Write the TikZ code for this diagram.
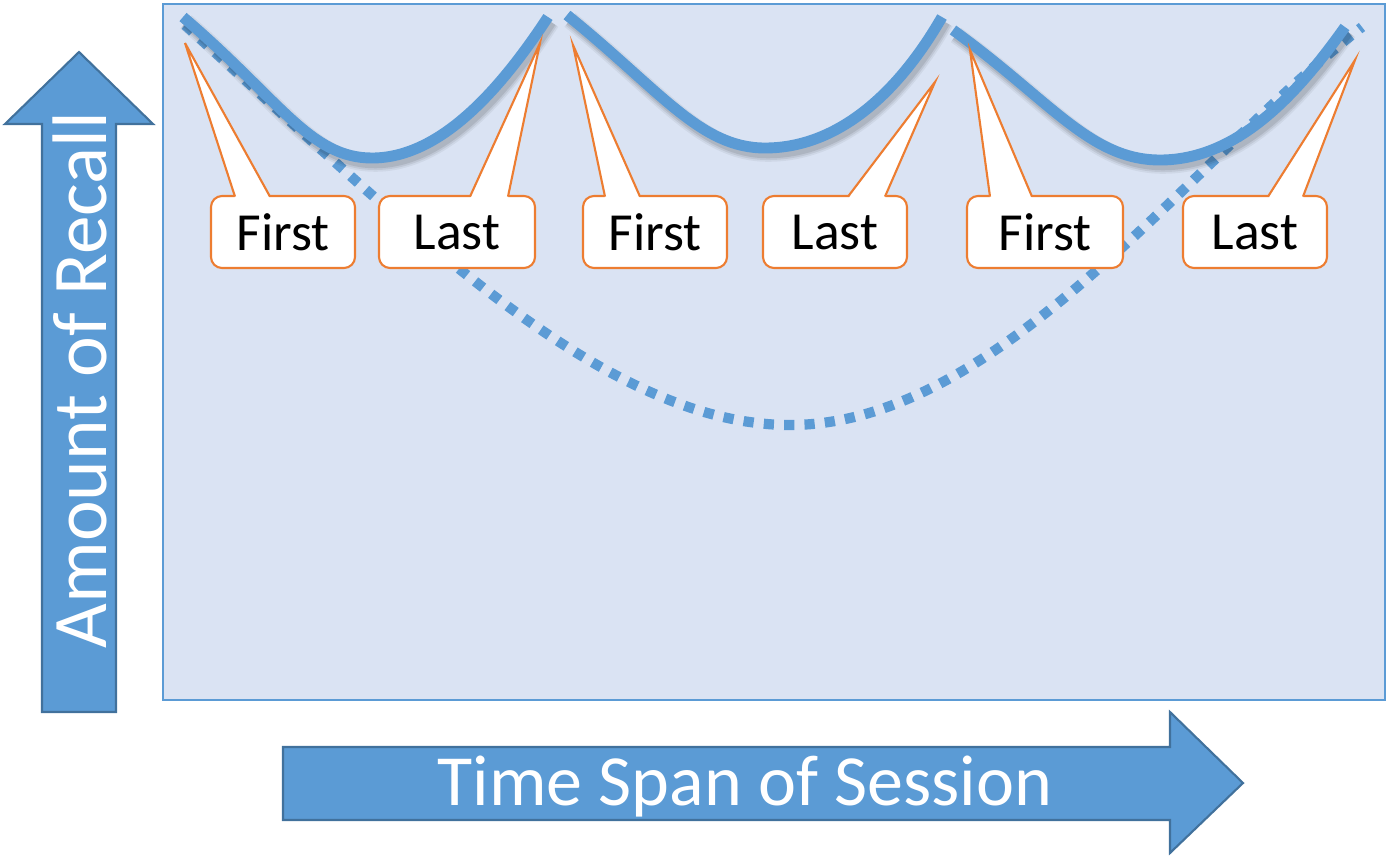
\documentclass[tikz,border=0pt]{standalone}
\usepackage{fontspec}
\setmainfont{Carlito}
\definecolor{blu}{HTML}{5B9BD5}
\definecolor{bluedge}{HTML}{41719C}
\definecolor{bgfill}{HTML}{DAE3F3}
\definecolor{org}{HTML}{ED7D31}
\tikzset{
  bigarrow/.style={fill=blu,draw=bluedge,line width=1.2pt},
  biglabel/.style={text=white,inner sep=0pt},
  callbox/.style={draw=org,fill=white,line width=1.2pt,rounded corners=0.22cm,minimum height=1.44cm,inner sep=0pt,font=\fontsize{30.5}{36}\selectfont},
  ptrfill/.style={fill=white},
  ptrline/.style={draw=org,line width=1.2pt,line join=miter},
  curve/.style={draw=blu,line width=6.2pt},
  shadowA/.style={draw=black,line width=10pt,opacity=0.05},
  shadowB/.style={draw=black,line width=8pt,opacity=0.07},
  shadowC/.style={draw=black,line width=6pt,opacity=0.09},
  dotcurve/.style={draw=blu,line width=5.8pt,dash pattern=on 5.8pt off 5.8pt},
  arcA/.style={insert path={(183,17) .. controls (280,100) and (310,158) .. (372,158) .. controls (440,158) and (500,90) .. (548,17)}},
  arcB/.style={insert path={(567,15) .. controls (660,90) and (700,148) .. (765,148) .. controls (840,148) and (900,90) .. (942,17)}},
  arcC/.style={insert path={(953,30) .. controls (1050,100) and (1090,160) .. (1160,160) .. controls (1240,160) and (1300,90) .. (1345,27)}},
}
\begin{document}
\begin{tikzpicture}[x=0.02cm,y=-0.02cm]
\useasboundingbox (0,0) rectangle (1387,856);
% background panel
\draw[fill=bgfill,draw=blu,line width=1.1pt] (163,4) rectangle (1385,700);
% vertical arrow
\draw[bigarrow] (42,712) -- (42,124) -- (5,124) -- (79,52) -- (153,124) -- (116,124) -- (116,712) -- cycle;
\node[biglabel,rotate=90,font=\fontsize{44}{50}\selectfont] (recall) at (80,380) {Amount of Recall};
% horizontal arrow
\draw[bigarrow] (283,747) -- (1170,747) -- (1170,712) -- (1243,783) -- (1170,853) -- (1170,820) -- (283,820) -- cycle;
\node[biglabel,font=\fontsize{41}{48}\selectfont] (span) at (745,787) {Time Span of Session};
% dotted overall curve
\draw[dotcurve] (185,25) .. controls (400,220) and (600,425) .. (790,425) .. controls (1000,425) and (1190,160) .. (1362,27);
% solid curves with soft shadows
\begin{scope}[shift={(3,5)}]
\foreach \arc in {arcA,arcB,arcC}{
  \draw[shadowA,\arc];
  \draw[shadowB,\arc];
  \draw[shadowC,\arc];
}
\end{scope}
\draw[curve,arcA];
\draw[curve,arcB];
\draw[curve,arcC];
% callouts
\node[callbox,minimum width=2.88cm] (f1) at (283,232) {First};
\node[callbox,minimum width=3.12cm] (l1) at (457,232) {Last};
\node[callbox,minimum width=2.88cm] (f2) at (655,232) {First};
\node[callbox,minimum width=2.88cm] (l2) at (835,232) {Last};
\node[callbox,minimum width=3.12cm] (f3) at (1045,232) {First};
\node[callbox,minimum width=2.88cm] (l3) at (1255,232) {Last};
\coordinate (tf1) at (185,43);
\coordinate (tl1) at (540,43);
\coordinate (tf2) at (573,45);
\coordinate (tl2) at (935,82);
\coordinate (tf3) at (970,50);
\coordinate (tl3) at (1355,60);
\foreach \t/\a/\b in {tf1/235/270, tl1/470/508, tf2/605/640, tl2/848/885, tf3/990/1032, tl3/1268/1303}{
  \fill[ptrfill] (\a,198.5) -- (\t) -- (\b,198.5) -- cycle;
  \draw[ptrline] (\a,196.6) -- (\t) -- (\b,196.6);
}
\end{tikzpicture}
\end{document}
